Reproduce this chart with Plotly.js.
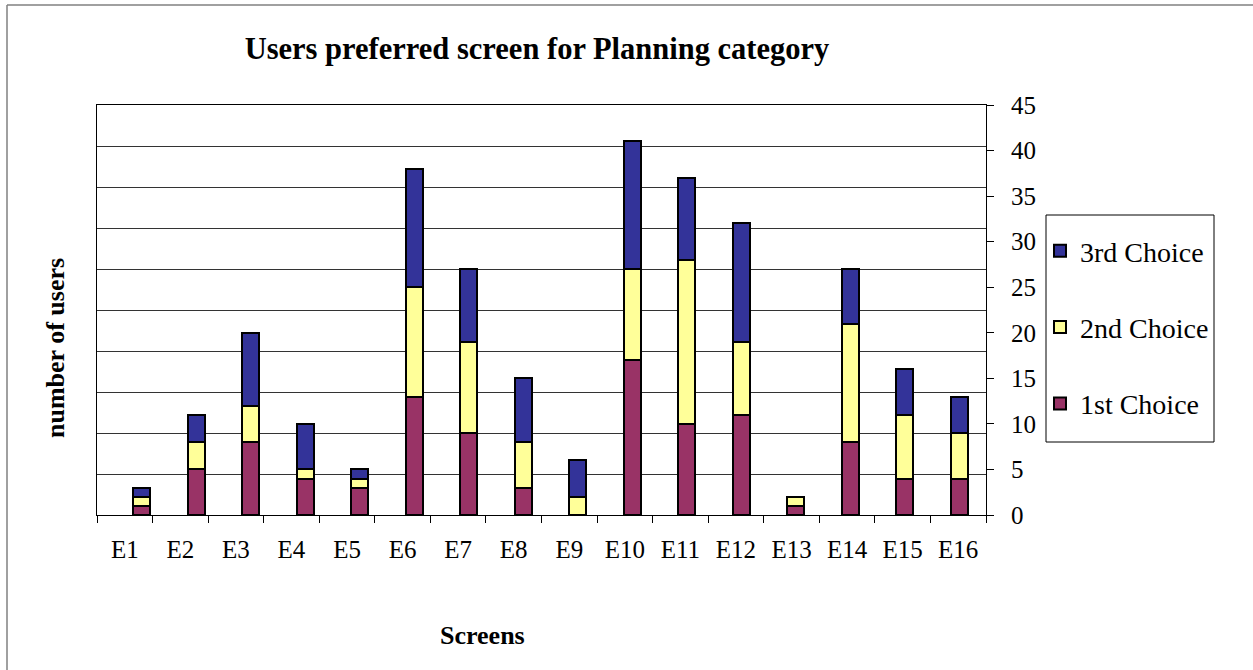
<!DOCTYPE html>
<html>
<head>
<meta charset="utf-8">
<script src="https://cdn.plot.ly/plotly-3.0.1.min.js"></script>
<style>
  html, body { margin: 0; padding: 0; background: #fff; }
  #chart { width: 1253px; height: 670px; }
</style>
</head>
<body>
<div id="chart"></div>
<script>
const categories = ["E1","E2","E3","E4","E5","E6","E7","E8","E9","E10","E11","E12","E13","E14","E15","E16"];
const firstChoice  = [1, 5, 8, 4, 3, 13, 9, 3, 0, 17, 10, 11, 1, 8, 4, 4];
const secondChoice = [1, 3, 4, 1, 1, 12, 10, 5, 2, 10, 18, 8, 1, 13, 7, 5];
const thirdChoice  = [1, 3, 8, 5, 1, 13, 8, 7, 4, 14, 9, 13, 0, 6, 5, 4];
const seriesNames = ["1st Choice", "2nd Choice", "3rd Choice"];
const yTicks = [0, 5, 10, 15, 20, 25, 30, 35, 40, 45];

const serif = "Liberation Serif, Times New Roman, serif";
const colors = ["#993366", "#FFFF99", "#333399"];
const series = [firstChoice, secondChoice, thirdChoice];

const traces = series.map((vals, k) => ({
  type: "bar",
  name: seriesNames[k],
  legendgroup: "g" + k,
  legendrank: 3 - k,
  x: categories,
  y: vals,
  xaxis: "x",
  yaxis: "y",
  width: 0.31,
  marker: { color: colors[k], line: { color: "#000", width: 2 } },
  hoverinfo: "x+y+name"
}));

const idx = categories.map((c, i) => i);
const bounds = categories.map((c, i) => i - 0.5).concat([categories.length - 0.5]);

// invisible helper traces so the label axes (x2 bottom categories, y2 right scale) are drawn
traces.push({
  type: "scatter", mode: "markers", x: idx, y: firstChoice,
  xaxis: "x2", yaxis: "y", marker: { opacity: 0 },
  showlegend: false, hoverinfo: "skip"
});
traces.push({
  type: "scatter", mode: "markers", x: categories, y: firstChoice,
  xaxis: "x", yaxis: "y2", marker: { opacity: 0 },
  showlegend: false, hoverinfo: "skip"
});

// pixel geometry of the plot area
const L = 97, R = 986, T = 105, B = 515;
const W = 1253, H = 670;
const px = x => (x - L) / (R - L);
const py = y => (B - y) / (B - T);

const layout = {
  width: W, height: H,
  margin: { l: L, r: W - R, t: T, b: H - B },
  paper_bgcolor: "#fff",
  plot_bgcolor: "#fff",
  barmode: "stack",
  showlegend: true,
  font: { family: serif, color: "#000", size: 24 },
  title: {
    text: "<b>Users preferred screen for Planning category</b>",
    font: { family: serif, size: 30.5, color: "#000" },
    x: 537 / W, xanchor: "center", xref: "container",
    y: 1 - 48 / H, yanchor: "middle", yref: "container"
  },
  xaxis: {
    type: "category",
    range: [-0.822, 15.49],
    showticklabels: false, ticks: "",
    showgrid: false, zeroline: false,
    showline: true, linecolor: "#000", linewidth: 1, mirror: true,
    fixedrange: true
  },
  xaxis2: {
    overlaying: "x", anchor: "y", side: "bottom",
    type: "linear",
    range: [-0.5, categories.length - 0.5],
    tickmode: "array", tickvals: idx, ticktext: categories,
    ticks: "", ticklen: 0,
    ticklabelstandoff: 12,
    tickfont: { family: serif, size: 25, color: "#000" },
    minor: { tickmode: "array", tickvals: bounds, ticks: "outside", ticklen: 7, tickwidth: 1, tickcolor: "#000", showgrid: false },
    showgrid: false, zeroline: false,
    showline: true, linecolor: "#000", linewidth: 1,
    fixedrange: true
  },
  yaxis: {
    range: [0, 45],
    tickmode: "linear", tick0: 0, dtick: 4.5,
    showticklabels: false, ticks: "",
    showgrid: true, gridcolor: "#333", gridwidth: 1,
    zeroline: false,
    showline: true, linecolor: "#000", linewidth: 1,
    fixedrange: true
  },
  yaxis2: {
    overlaying: "y", anchor: "x", side: "right",
    range: [0, 45],
    tickmode: "array", tickvals: yTicks, ticktext: yTicks.map(String),
    ticks: "outside", ticklen: 7, tickcolor: "#000", tickwidth: 1,
    ticklabelstandoff: 12,
    tickfont: { family: serif, size: 25, color: "#000" },
    showgrid: false, zeroline: false,
    showline: true, linecolor: "#000", linewidth: 1,
    fixedrange: true
  },
  legend: {
    x: px(1040), xanchor: "left",
    y: py(226), yanchor: "top",
    bgcolor: "rgba(0,0,0,0)",
    borderwidth: 0,
    traceorder: "grouped",
    tracegroupgap: 37,
    font: { family: serif, size: 28, color: "#000" }
  },
  annotations: [
    {
      text: "<b>number of users</b>", showarrow: false,
      xref: "paper", yref: "paper",
      x: px(55), y: py(348), xanchor: "center", yanchor: "middle",
      textangle: -90,
      font: { family: serif, size: 26, color: "#000" }
    },
    {
      text: "<b>Screens</b>", showarrow: false,
      xref: "paper", yref: "paper",
      x: px(482), y: py(635), xanchor: "center", yanchor: "middle",
      font: { family: serif, size: 26, color: "#000" }
    }
  ],
  shapes: [
    { type: "rect", xref: "paper", yref: "paper",
      x0: px(1046), x1: px(1214), y0: py(442), y1: py(215),
      line: { color: "#000", width: 1 }, fillcolor: "rgba(0,0,0,0)", layer: "below" },
    { type: "line", xref: "paper", yref: "paper",
      x0: px(7), x1: px(7), y0: py(5), y1: py(690),
      line: { color: "#808080", width: 1.5 } },
    { type: "line", xref: "paper", yref: "paper",
      x0: px(7), x1: px(1260), y0: py(5), y1: py(5),
      line: { color: "#808080", width: 1.5 } }
  ]
};

Plotly.newPlot("chart", traces, layout, { displayModeBar: false });
</script>
</body>
</html>
